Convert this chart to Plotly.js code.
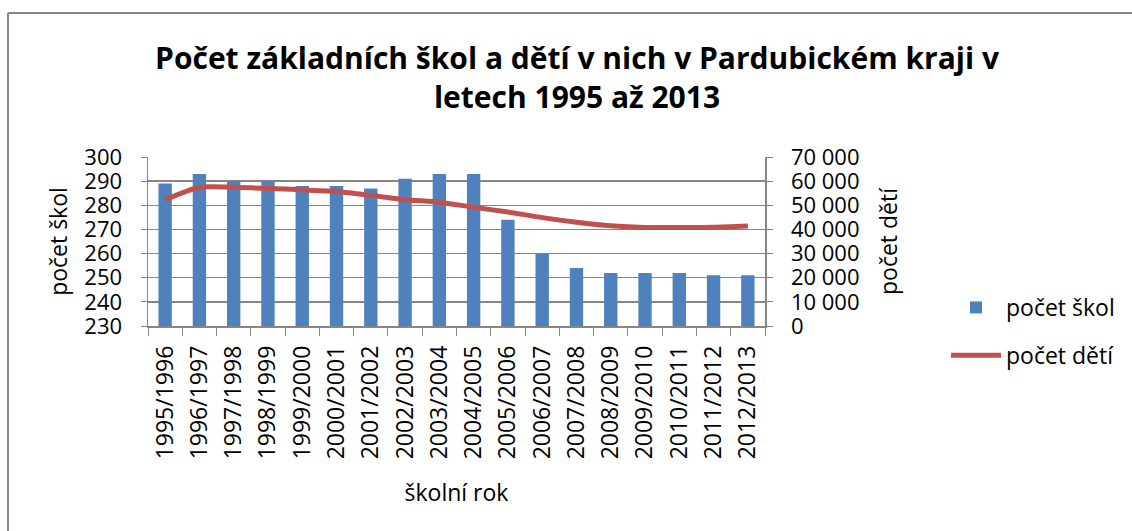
<!DOCTYPE html>
<html>
<head>
<meta charset="utf-8">
<script src="https://cdn.plot.ly/plotly-3.0.1.min.js"></script>
<style>html,body{margin:0;padding:0;background:#fff;}#chart{width:1132px;height:531px;}</style>
</head>
<body>
<div id="chart"></div>
<script>
const categories = ["1995/1996","1996/1997","1997/1998","1998/1999","1999/2000","2000/2001","2001/2002","2002/2003","2003/2004","2004/2005","2005/2006","2006/2007","2007/2008","2008/2009","2009/2010","2010/2011","2011/2012","2012/2013"];
const pocetSkol = [289,293,290,290,288,288,287,291,293,293,274,260,254,252,252,252,251,251];
const pocetDeti = [52300,57500,57400,57000,56400,55700,54100,52300,51300,49200,47200,44900,43000,41500,40800,40800,40900,41400];

const FONT = "'Open Sans', sans-serif";
const L = 148, R = 765, T = 157, B = 326, W = 1132, H = 531;
const px2x = p => (p - L) / (R - L);
const py2y = p => (B - p) / (B - T);

const traces = [
  {type:'bar', x:categories, y:pocetSkol, name:'počet škol', marker:{color:'#4F81BD'}, legendgroup:'a', yaxis:'y'},
  {type:'scatter', mode:'lines', x:categories, y:pocetDeti, name:'počet dětí', line:{color:'#C0504D', width:5, shape:'spline', smoothing:0.7}, legendgroup:'b', yaxis:'y2'}
];

const layout = {
  width:W, height:H,
  margin:{l:L, r:W-R, t:T, b:H-B},
  paper_bgcolor:'#fff', plot_bgcolor:'#fff',
  separators:', ',
  font:{family:FONT, size:22, color:'#000'},
  title:{text:'<b>Počet základních škol a dětí v nich v Pardubickém kraji v<br>letech 1995 až 2013</b>', font:{family:FONT, size:30, color:'#000'}, x:577/W, xref:'container', xanchor:'center', y:1-69/H, yref:'container', yanchor:'top'},
  bargap:0.61,
  xaxis:{type:'category', tickangle:-90, tickson:'boundaries', ticks:'outside', ticklen:8, tickcolor:'#868686', showline:true, linecolor:'#868686', linewidth:1.5, showgrid:false, tickfont:{size:23}, ticklabelstandoff:9,
    title:{text:'školní rok', font:{size:23}, standoff:26}},
  yaxis:{range:[230,300], dtick:10, ticks:'outside', ticklen:6, tickcolor:'#868686', showline:true, linecolor:'#868686', linewidth:1.5, gridcolor:'#868686', gridwidth:1.5, zeroline:false, tickfont:{size:22}, ticklabelstandoff:14,
    title:{text:'počet škol', font:{size:23}, standoff:10}},
  yaxis2:{range:[0,70000], dtick:10000, tickformat:',d', overlaying:'y', side:'right', ticks:'outside', ticklen:6, tickcolor:'#868686', showline:true, linecolor:'#868686', linewidth:1.5, showgrid:false, zeroline:false, tickfont:{size:22}, ticklabelstandoff:14,
    title:{text:'počet dětí', font:{size:23}, standoff:22}},
  legend:{x:px2x(946), xanchor:'left', y:py2y(286), yanchor:'top', traceorder:'grouped', tracegroupgap:15, itemwidth:50, font:{size:23}, bgcolor:'rgba(0,0,0,0)'},
  shapes:[
    {type:'line', xref:'paper', yref:'paper', x0:px2x(8), x1:px2x(8), y0:py2y(540), y1:py2y(13), line:{color:'#868686', width:2}},
    {type:'line', xref:'paper', yref:'paper', x0:px2x(8), x1:px2x(1140), y0:py2y(13), y1:py2y(13), line:{color:'#868686', width:2}}
  ]
};
Plotly.newPlot('chart', traces, layout, {displayModeBar:false, staticPlot:true});
</script>
</body>
</html>
